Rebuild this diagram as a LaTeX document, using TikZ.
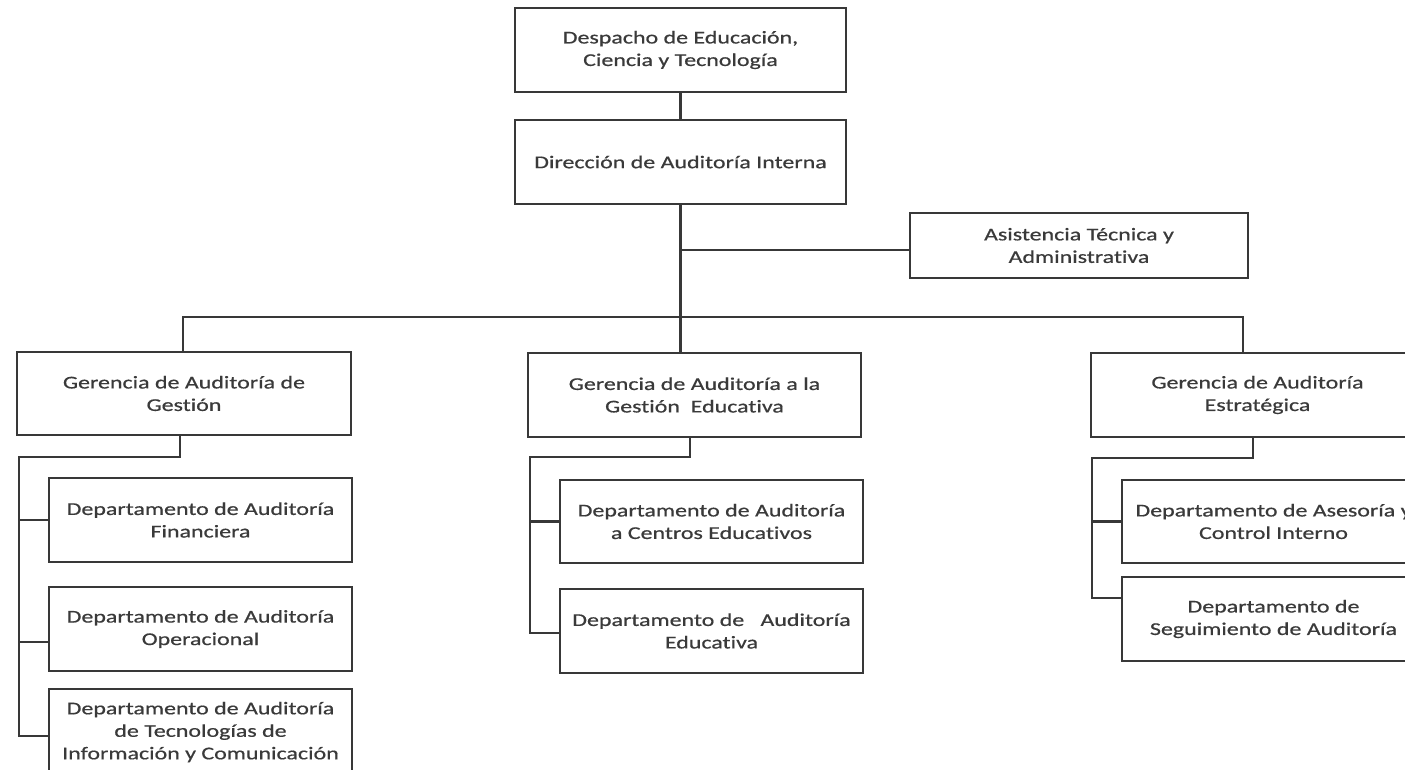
\documentclass[tikz,border=0pt]{standalone}
\usepackage{fontspec}
\setmainfont{Carlito}[FakeStretch=1.33,FakeBold=0.6,Ligatures=NoCommon]
\definecolor{linec}{HTML}{383838}
\definecolor{textc}{HTML}{3A3A3A}
\begin{document}
\begin{tikzpicture}[x=1pt,y=-1pt,
  box/.style={draw=linec, line width=2.5pt, rectangle, align=center, inner sep=0pt,
              text=textc, font=\fontsize{18}{22.5}\selectfont},
  conn/.style={draw=linec, line width=2.5pt}]
\clip (0,0) rectangle (1405,769);
\fill[white] (0,0) rectangle (1405,769);
% top
\node[box, minimum width=331pt, minimum height=84pt] (desp) at (680.5,50) {Despacho de Educación,\\Ciencia y Tecnología};
\node[box, minimum width=331pt, minimum height=84pt] (dir) at (680.5,162) {Dirección de Auditoría Interna};
\node[box, minimum width=338pt, minimum height=65pt] (asis) at (1079,245.5) {Asistencia Técnica y\\Administrativa};
% gerencias
\node[box, minimum width=334pt, minimum height=83pt] (g1) at (184,393.5) {Gerencia de Auditoría de\\Gestión};
\node[box, minimum width=333pt, minimum height=84pt] (g2) at (694.5,395) {Gerencia de Auditoría a la\\Gestión\ \ Educativa};
\node[box, minimum width=333pt, minimum height=84pt] (g3) at (1257.5,395) {Gerencia de Auditoría\\Estratégica};
% departamentos
\node[box, minimum width=303pt, minimum height=84pt] (d1) at (200.5,520) {Departamento de Auditoría\\Financiera};
\node[box, minimum width=303pt, minimum height=84pt] (d2) at (200.5,629) {Departamento de Auditoría\\Operacional};
\node[box, minimum width=303pt, minimum height=86pt] (d3) at (200.5,732) {Departamento de Auditoría\\de Tecnologías de\\Información y Comunicación};
\node[box, minimum width=303pt, minimum height=83pt] (d4) at (711.5,521.5) {Departamento de Auditoría\\a Centros Educativos};
\node[box, minimum width=303pt, minimum height=84pt] (d5) at (711.5,631) {Departamento de\ \ \ Auditoría\\Educativa};
\node[box, minimum width=303pt, minimum height=83pt] (d6) at (1273.5,521.5) {Departamento de Asesoría y\\Control Interno};
\node[box, minimum width=303pt, minimum height=84pt] (d7) at (1273.5,619) {Departamento de\\Seguimiento de Auditoría};
% connectors
\draw[conn] (desp) -- (dir);
\draw[conn] (dir.south) -- (dir.south |- g2.north);
\draw[conn] (dir.south |- asis.west) ++(0,4.5) -- ([yshift=-4.5pt]asis.west);
\coordinate (busL) at (183,317);
\coordinate (busR) at (1243,317);
\draw[conn] (busL |- g1.north) -- (busL) -- (busR) -- (busR |- g3.north);
% gestion
\coordinate (s1) at (19,457);
\draw[conn] ([xshift=-4pt]g1.south) |- (s1) |- ([yshift=-4pt]d3.west);
\draw[conn] (s1 |- d1.west) -- (d1.west);
\draw[conn] (s1 |- d2.west) ++(0,13) -- ([yshift=-13pt]d2.west);
% educativa
\coordinate (s2) at (530,457);
\draw[conn] ([xshift=-4.5pt]g2.south) |- (s2) |- ([yshift=-2pt]d5.west);
\draw[conn] (s2 |- d4.west) -- (d4.west);
% estrategica
\coordinate (s3) at (1092,458);
\draw[conn] ([xshift=-4.5pt]g3.south) |- (s3) |- ([yshift=21pt]d7.west);
\draw[conn] (s3 |- d6.west) -- (d6.west);
\end{tikzpicture}
\end{document}
